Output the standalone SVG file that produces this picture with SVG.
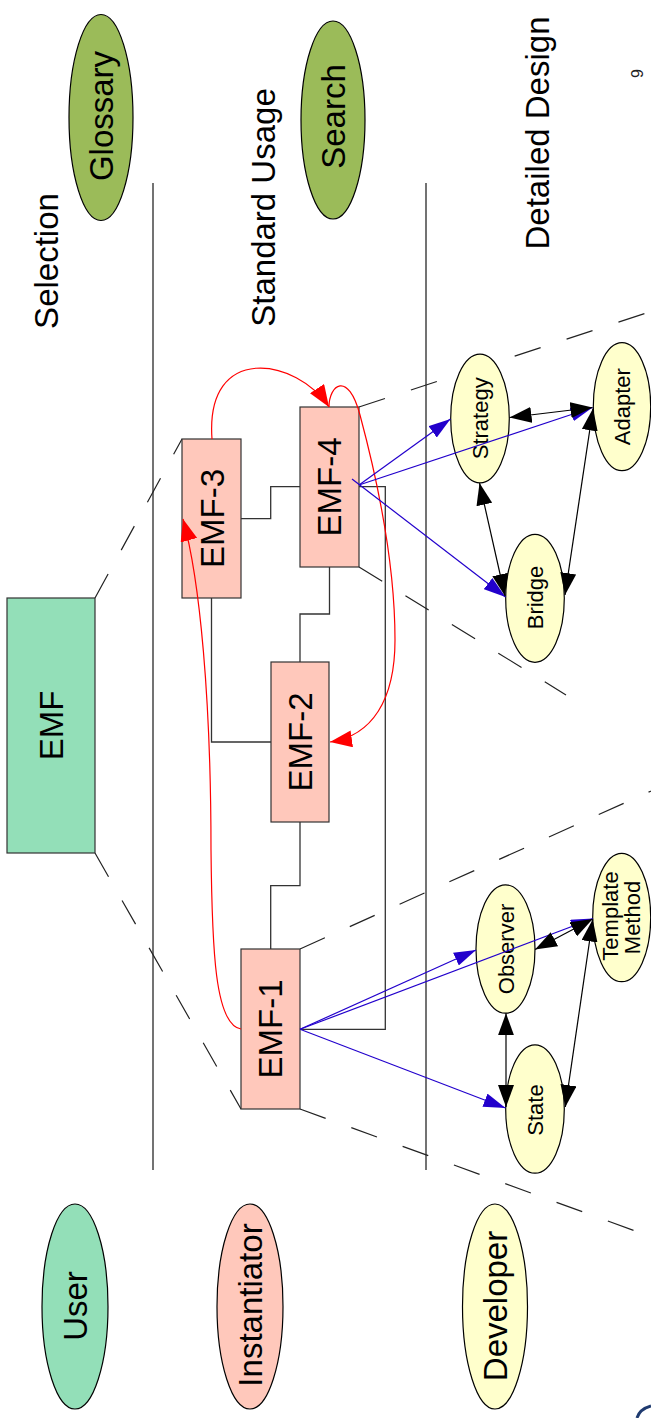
<svg xmlns="http://www.w3.org/2000/svg" width="651" height="1418" viewBox="0 0 651 1418">
<defs>
<style>
text{font-family:"Liberation Sans",Arial,sans-serif;fill:#000}
.big{font-size:33px}
.box{font-size:33px}
.small{font-size:22px}
.role{stroke:#000;stroke-width:1.2}
.emf{fill:#ffc8bb;stroke:#333;stroke-width:1.2}
.pat{fill:#ffffcc;stroke:#000;stroke-width:1.2}
.layer{stroke:#444;stroke-width:1.5;fill:none}
.dash{stroke:#222;stroke-width:1.2;stroke-dasharray:27.3 27.3;fill:none}
.wire{stroke:#333;stroke-width:1.3;fill:none}
.blue{stroke:#2200cc;stroke-width:1.2;fill:none;marker-end:url(#bh)}
.black{stroke:#000;stroke-width:1.2;fill:none;marker-start:url(#kh);marker-end:url(#kh)}
.red{stroke:#ff0000;stroke-width:1.2;fill:none;marker-end:url(#rh)}
</style>
<marker id="bh" viewBox="0 0 22 14" refX="22" refY="7" markerWidth="22" markerHeight="14" markerUnits="userSpaceOnUse" orient="auto"><path d="M0,0 L22,7 L0,14 z" fill="#2200cc"/></marker>
<marker id="kh" viewBox="0 0 22 16" refX="22" refY="8" markerWidth="22" markerHeight="16" markerUnits="userSpaceOnUse" orient="auto-start-reverse"><path d="M0,0 L22,8 L0,16 z" fill="#000"/></marker>
<marker id="rh" viewBox="0 0 22 17" refX="22" refY="8.5" markerWidth="22" markerHeight="17" markerUnits="userSpaceOnUse" orient="auto"><path d="M0,0 L22,8.5 L0,17 z" fill="#ff0000"/></marker>
</defs>
<rect width="651" height="1418" fill="#fff"/>

<g id="layers">
<line class="layer" x1="153" y1="183" x2="153" y2="1170"/>
<line class="layer" x1="426" y1="183" x2="426" y2="1170"/>
<text class="big" transform="translate(58,261) rotate(-90)" text-anchor="middle">Selection</text>
<text class="big" transform="translate(275,207.5) rotate(-90)" text-anchor="middle">Standard Usage</text>
<text class="big" transform="translate(549,133) rotate(-90)" text-anchor="middle">Detailed Design</text>
<text transform="translate(643,73.5) rotate(-90)" text-anchor="middle" style="font-size:16px;fill:#222">9</text>
</g>

<g id="zoom-lines">
<line class="dash" x1="95" y1="598" x2="182" y2="439"/>
<line class="dash" x1="95" y1="853" x2="241" y2="1109"/>
<line class="dash" x1="359" y1="407" x2="660" y2="308.5"/>
<line class="dash" x1="359" y1="567" x2="566" y2="695"/>
<line class="dash" x1="300" y1="949" x2="660" y2="787"/>
<line class="dash" x1="300" y1="1109" x2="660" y2="1240"/>
</g>

<g id="glossary">
<ellipse class="role" cx="101" cy="117.5" rx="32" ry="103" fill="#9bbb59"/>
<text class="big" transform="translate(113,116) rotate(-90)" text-anchor="middle">Glossary</text>
</g>
<g id="search">
<ellipse class="role" cx="333" cy="120" rx="32" ry="99" fill="#9bbb59"/>
<text class="big" transform="translate(345,116.5) rotate(-90)" text-anchor="middle">Search</text>
</g>
<g id="user">
<ellipse class="role" cx="75" cy="1306.5" rx="33" ry="102.5" fill="#93dfb8"/>
<text class="big" transform="translate(87,1306) rotate(-90)" text-anchor="middle">User</text>
</g>
<g id="instantiator">
<ellipse class="role" cx="250" cy="1306.5" rx="33" ry="102.5" fill="#ffc8bb"/>
<text class="big" transform="translate(262,1305) rotate(-90)" text-anchor="middle">Instantiator</text>
</g>
<g id="developer">
<ellipse class="role" cx="495" cy="1306.5" rx="32.5" ry="102.5" fill="#ffffcc"/>
<text class="big" transform="translate(507,1306) rotate(-90)" text-anchor="middle">Developer</text>
</g>

<g id="emf">
<rect x="7" y="598" width="88" height="255" fill="#93dfb8" stroke="#333" stroke-width="1.2"/>
<text class="box" transform="translate(62.5,725.5) rotate(-90)" text-anchor="middle">EMF</text>
</g>
<g id="emf-3">
<rect class="emf" x="182" y="439" width="59" height="159"/>
<text class="box" transform="translate(223.5,518.5) rotate(-90)" text-anchor="middle">EMF-3</text>
</g>
<g id="emf-4">
<rect class="emf" x="300" y="407" width="59" height="160"/>
<text class="box" transform="translate(341.3,487) rotate(-90)" text-anchor="middle">EMF-4</text>
</g>
<g id="emf-2">
<rect class="emf" x="271" y="662" width="58" height="160"/>
<text class="box" transform="translate(311.8,742) rotate(-90)" text-anchor="middle">EMF-2</text>
</g>
<g id="emf-1">
<rect class="emf" x="241" y="949" width="59" height="160"/>
<text class="box" transform="translate(282.3,1029) rotate(-90)" text-anchor="middle">EMF-1</text>
</g>

<g id="strategy">
<ellipse class="pat" cx="480" cy="418.5" rx="29.3" ry="64.3"/>
<text class="small" transform="translate(488,418.3) rotate(-90)" text-anchor="middle">Strategy</text>
</g>
<g id="adapter">
<ellipse class="pat" cx="622" cy="406.7" rx="28.7" ry="64"/>
<text class="small" transform="translate(630,406.7) rotate(-90)" text-anchor="middle">Adapter</text>
</g>
<g id="bridge">
<ellipse class="pat" cx="535" cy="598.3" rx="29.3" ry="64"/>
<text class="small" transform="translate(543,597.5) rotate(-90)" text-anchor="middle">Bridge</text>
</g>
<g id="observer">
<ellipse class="pat" cx="505.5" cy="949" rx="29.5" ry="64.2"/>
<text class="small" transform="translate(513.5,949) rotate(-90)" text-anchor="middle">Observer</text>
</g>
<g id="template-method">
<ellipse class="pat" cx="621.7" cy="917.5" rx="29" ry="64.2"/>
<text class="small" transform="translate(618,916) rotate(-90)" text-anchor="middle">Template</text>
<text class="small" transform="translate(640,917.5) rotate(-90)" text-anchor="middle">Method</text>
</g>
<g id="state">
<ellipse class="pat" cx="535" cy="1109" rx="29.3" ry="64.2"/>
<text class="small" transform="translate(543,1110) rotate(-90)" text-anchor="middle">State</text>
</g>

<g id="connectors">
<path class="wire" d="M241,518.7 H270.7 V486.7 H300"/>
<path class="wire" d="M329.5,567 V614 H300 V662"/>
<path class="wire" d="M211.5,598 V742 H271"/>
<path class="wire" d="M300,822 V885.7 H270.7 V949"/>
<path class="wire" d="M300,1029.3 H385.3 V486.7 H359"/>

<path class="red" d="M212,439 C205,342 297,358 329,407"/>
<path class="red" d="M329,407 C329,385 348,370 360,415 C375,471 395,560 395,640 C395,700 372,736 330,742"/>
<path class="red" d="M241,1029 C215,1025 212,950 211,850 C211,700 200,580 183,519"/>

<line class="blue" x1="359" y1="485" x2="450.5" y2="419"/>
<line class="blue" x1="359" y1="485" x2="592.5" y2="407.5"/>
<line class="blue" x1="352" y1="479" x2="505.5" y2="597"/>
<line class="blue" x1="300" y1="1029.3" x2="476" y2="950"/>
<line class="blue" x1="300" y1="1029.3" x2="593" y2="918.5"/>
<line class="blue" x1="300" y1="1029.3" x2="505.5" y2="1108"/>

<line class="black" x1="509.5" y1="417.5" x2="592.5" y2="407.5"/>
<line class="black" x1="479.5" y1="483" x2="505" y2="596"/>
<line class="black" x1="593" y1="408.5" x2="565" y2="595"/>
<line class="black" x1="506" y1="1013.3" x2="506" y2="1107"/>
<line class="black" x1="535" y1="949.5" x2="592.7" y2="919"/>
<line class="black" x1="592.7" y1="919.5" x2="565.3" y2="1107"/>
</g>

<path d="M637,1418 C639,1411 644,1408 651,1406" fill="none" stroke="#1f3b70" stroke-width="3"/>
</svg>
